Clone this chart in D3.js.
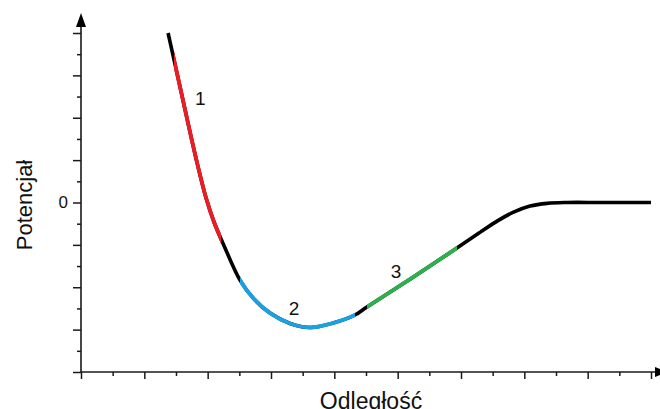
<!DOCTYPE html>
<html>
<head>
<meta charset="utf-8">
<script src="https://cdn.jsdelivr.net/npm/d3@7"></script>
<style>
  html, body { margin: 0; padding: 0; background: #fff; }
  svg { display: block; font-family: "Liberation Sans", Arial, sans-serif; }
</style>
</head>
<body>
<svg id="chart" width="660" height="409"></svg>
<script>
// Potential energy curve vs. distance (arbitrary units)
const distance  = [2.75, 3.19, 3.63, 3.95, 4.20, 4.52, 5.02, 5.46, 5.97, 6.60, 7.23, 7.96, 8.65, 9.03, 10.45, 11.87, 12.60, 13.14, 13.64, 14.18, 14.72, 15.35, 16.39, 18.00];
const potential = [8.00, 5.03, 2.10, 0.21, -0.92, -2.05, -3.66, -4.55, -5.22, -5.71, -5.90, -5.69, -5.31, -4.93, -3.56, -2.15, -1.41, -0.88, -0.47, -0.17, -0.04, 0.00, 0.00, 0.00];

// Coloured regions of the curve, by distance range
const regionStart = [2.94, 5.02, 9.03];
const regionEnd   = [4.42, 8.65, 11.87];
const regionColor = ["#ec1c24", "#1ba1e2", "#2bb24c"];
const regionLabel = ["1", "2", "3"];
const labelX      = [3.77, 6.73, 9.95];
const labelY      = [4.60, -5.31, -3.56];

const xTicks = d3.range(0, 19, 1);
const yTicks = d3.range(-8, 9, 1);
const yLabelTicks = [0];

const axisTitleX = "Odległość";
const axisTitleY = "Potencjał";

const svg = d3.select("#chart");
const x = d3.scaleLinear().domain([0, 18]).range([81, 651]);
const y = d3.scaleLinear().domain([-8, 8]).range([372, 33]);

const axisColor = "#1a1a1a";

// Y axis: minor + major ticks
const yMinor = svg.append("g").attr("transform", `translate(${x(0)},0)`)
  .call(d3.axisLeft(y).tickValues(yTicks.filter(d => d % 2 !== 0)).tickSize(4).tickFormat(""));
const yMajor = svg.append("g").attr("transform", `translate(${x(0)},0)`)
  .call(d3.axisLeft(y).tickValues(yTicks.filter(d => d % 2 === 0)).tickSize(8).tickFormat(""));
const yLab = svg.append("g").attr("transform", `translate(${x(0)},0)`)
  .call(d3.axisLeft(y).tickValues(yLabelTicks).tickSize(0).tickPadding(13).tickFormat(d3.format("d")));

// X axis: minor + major ticks
const xMinor = svg.append("g").attr("transform", `translate(0,${y(-8)})`)
  .call(d3.axisBottom(x).tickValues(xTicks.filter(d => d % 2 !== 0)).tickSize(4).tickFormat(""));
const xMajor = svg.append("g").attr("transform", `translate(0,${y(-8)})`)
  .call(d3.axisBottom(x).tickValues(xTicks.filter(d => d % 2 === 0)).tickSize(7).tickFormat(""));

[yMinor, yMajor, yLab, xMinor, xMajor].forEach(g => {
  g.select(".domain").remove();
  g.selectAll(".tick line").attr("stroke", axisColor).attr("stroke-width", 1.5);
});
yLab.selectAll(".tick text").attr("font-size", 17).attr("fill", "#111")
  .attr("font-family", "Liberation Sans, Arial, sans-serif");

// Axis lines with arrowheads
svg.append("line").attr("x1", x(0)).attr("x2", x(0)).attr("y1", y(-8)).attr("y2", 26)
  .attr("stroke", axisColor).attr("stroke-width", 1.6);
svg.append("line").attr("x1", x(0)).attr("x2", 656).attr("y1", y(-8)).attr("y2", y(-8))
  .attr("stroke", axisColor).attr("stroke-width", 1.6);
svg.append("path").attr("d", `M${x(0)},13 L${x(0) - 5},27 L${x(0) + 5},27 Z`).attr("fill", "#000");
svg.append("path").attr("d", `M655,${y(-8) - 5} L668,${y(-8)} L655,${y(-8) + 5} Z`).attr("fill", "#000");

// Curve
const pts = distance.map((d, i) => [d, potential[i]]);
const line = d3.line().x(d => x(d[0])).y(d => y(d[1])).curve(d3.curveCatmullRom.alpha(0.5));
const pathD = line(pts);

svg.append("path").attr("d", pathD).attr("fill", "none")
  .attr("stroke", "#000").attr("stroke-width", 3.6).attr("stroke-linecap", "butt");

const defs = svg.append("defs");
regionStart.forEach((s, i) => {
  defs.append("clipPath").attr("id", "region" + i)
    .append("rect").attr("x", x(s)).attr("y", 0)
    .attr("width", x(regionEnd[i]) - x(s)).attr("height", 409);
  svg.append("path").attr("d", pathD).attr("fill", "none")
    .attr("clip-path", `url(#region${i})`)
    .attr("stroke", regionColor[i]).attr("stroke-width", 3.8);
  svg.append("text").attr("x", x(labelX[i])).attr("y", y(labelY[i]))
    .attr("text-anchor", "middle").attr("font-size", 19).attr("fill", "#111")
    .text(regionLabel[i]);
});

// Axis titles
svg.append("text").attr("x", 371).attr("y", 409).attr("text-anchor", "middle")
  .attr("font-size", 23).attr("fill", "#111").text(axisTitleX);
svg.append("text").attr("transform", "translate(32,205) rotate(-90)")
  .attr("text-anchor", "middle").attr("font-size", 22).attr("fill", "#111").text(axisTitleY);
</script>
</body>
</html>
